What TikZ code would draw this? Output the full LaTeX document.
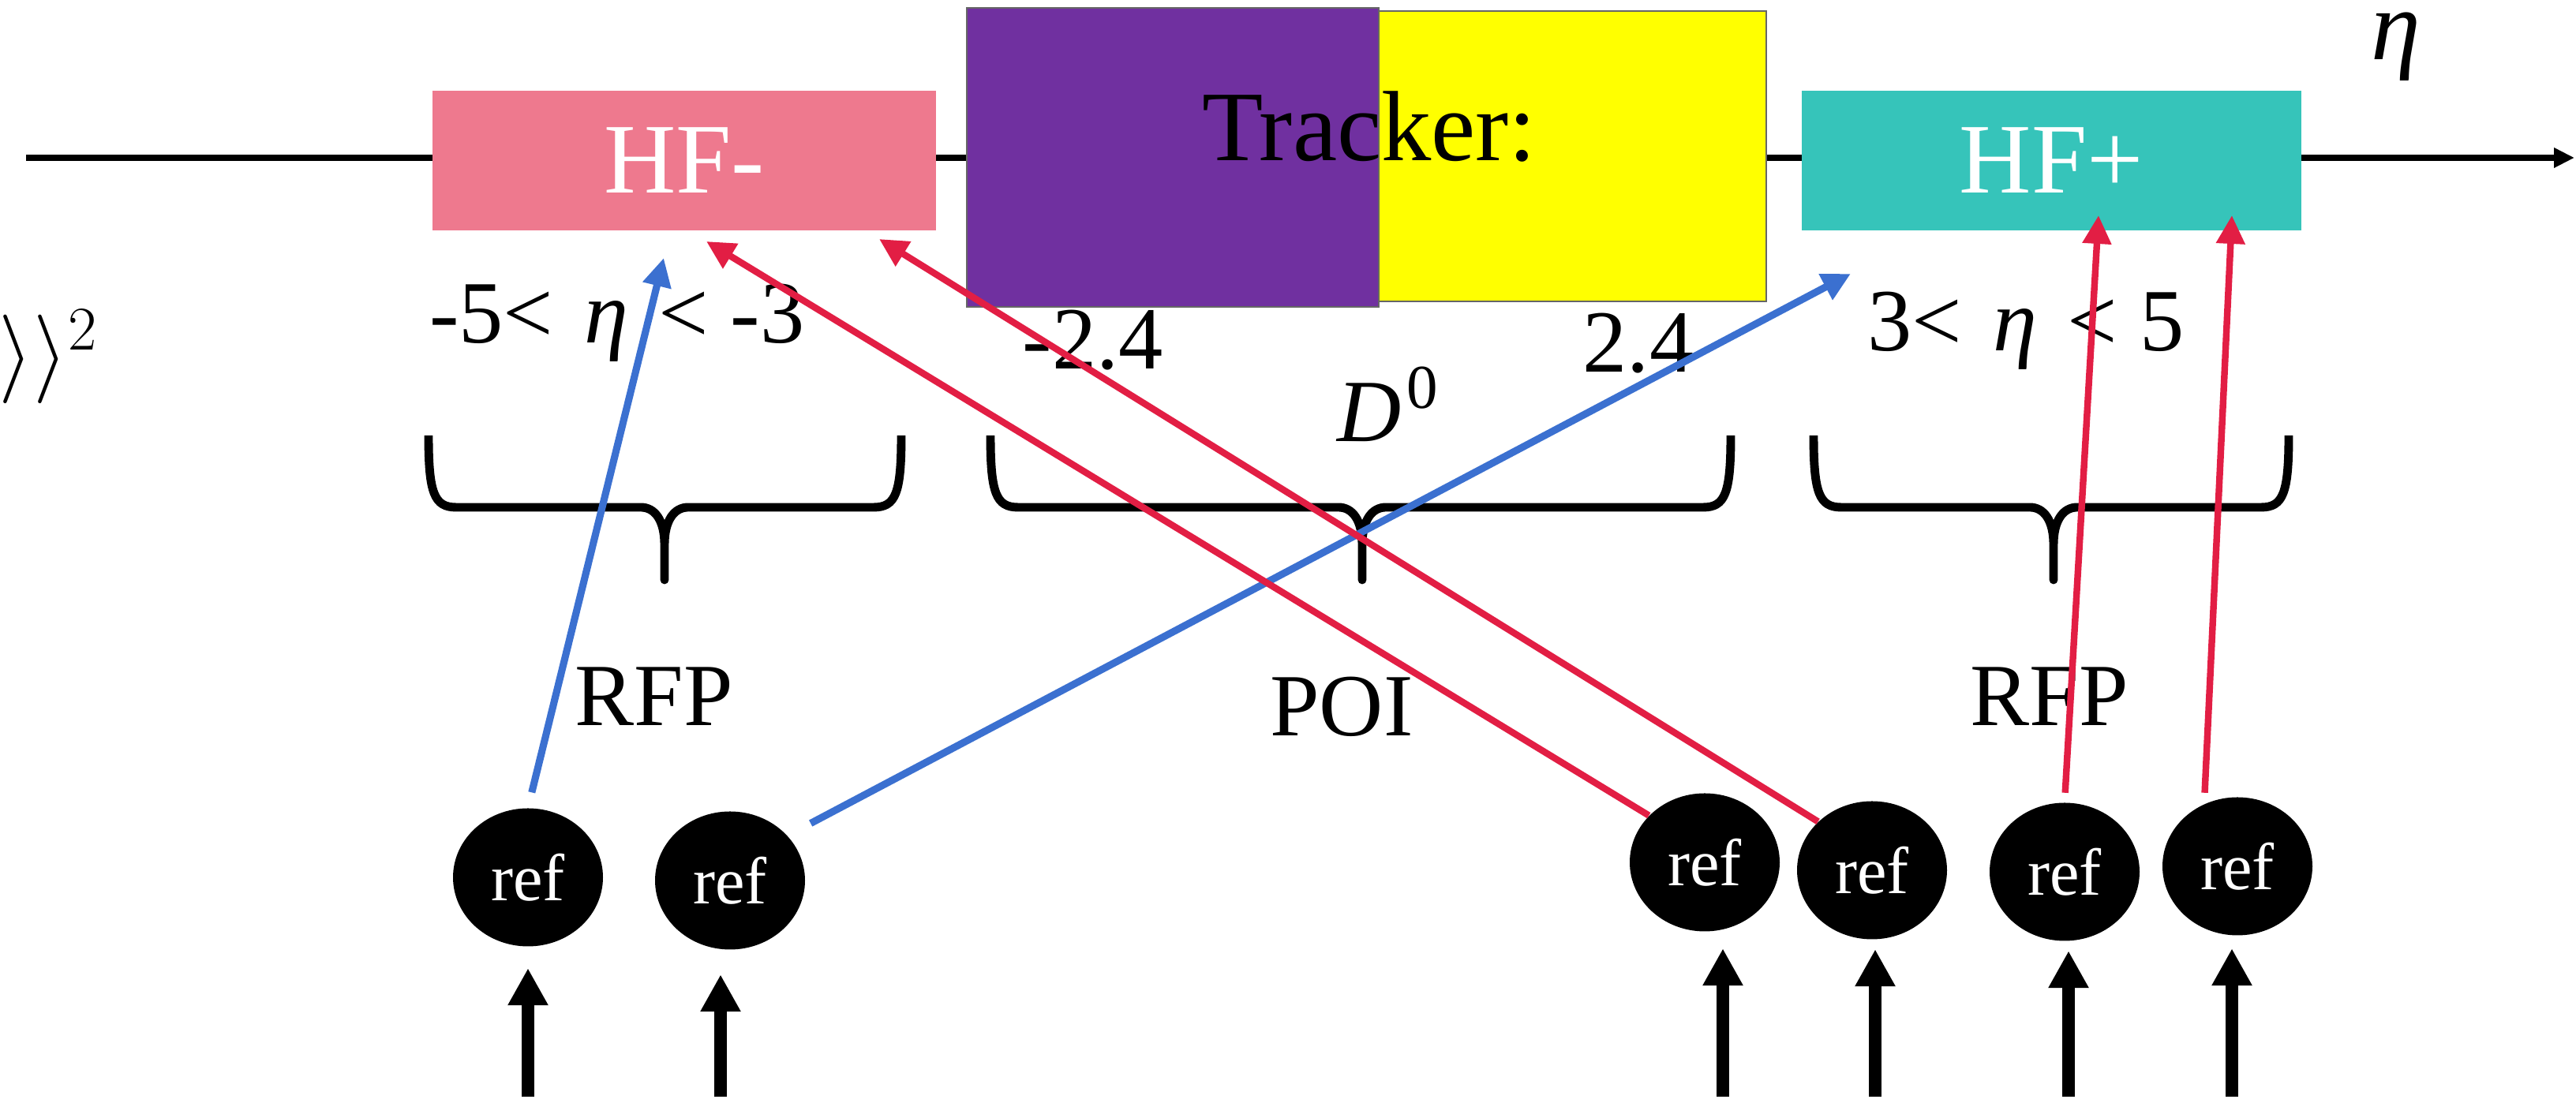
\RequirePackage{fix-cm}
\documentclass[tikz,border=0pt]{standalone}
\usepackage{fontspec}
\setmainfont{Liberation Serif}
\usetikzlibrary{arrows.meta, positioning, shapes.geometric}

\definecolor{hfminus}{RGB}{238,121,142}
\definecolor{hfplus}{RGB}{54,196,186}
\definecolor{trkpurple}{RGB}{112,48,160}
\definecolor{trkyellow}{RGB}{255,255,0}
\definecolor{poiblue}{RGB}{59,112,208}
\definecolor{rfpred}{RGB}{226,30,68}

% pointed curly brace: #1 left arm x, #2 tip x, #3 right arm x
\newcommand{\curlybrace}[3]{%
  \draw[brace] (#1,8.46) .. controls (#1,7.73) and (#1+0.07,7.55) .. (#1+0.35,7.55)
    -- (#2-0.3,7.55) .. controls (#2-0.12,7.55) and (#2,7.38) .. (#2,7.08) -- (#2,6.63)
    -- (#2,7.08) .. controls (#2,7.38) and (#2+0.12,7.55) .. (#2+0.3,7.55)
    -- (#3-0.35,7.55) .. controls (#3-0.07,7.55) and (#3,7.73) .. (#3,8.46);
}
% italic eta with some room on both sides
\newcommand{\etavar}{\kern3pt\textit{η}\kern3pt}

\begin{document}
\begin{tikzpicture}
  % Styles
  \tikzset{
    axisline/.style={line width=2.3pt,-{Triangle[length=2.6mm,width=2.4mm]}},
    detector/.style={rectangle,inner sep=0pt,minimum height=1.77cm,text=white,font=\fontsize{36}{40}\selectfont},
    tracker/.style={rectangle,inner sep=0pt,draw=black!60,line width=0.6pt},
    etarange/.style={inner sep=0pt,anchor=base,font=\fontsize{32}{36}\selectfont},
    refnode/.style={ellipse,fill=black,text=white,minimum width=1.9cm,minimum height=1.75cm,inner sep=0pt,font=\fontsize{24}{28}\selectfont},
    brace/.style={line width=3.1pt,line join=round},
    feed/.style={line width=4.5pt,-{Triangle[length=4.7mm,width=4.8mm]}},
    poiarr/.style={poiblue,line width=2.6pt,-{Triangle[length=3.6mm,width=3.5mm]}},
    rfparr/.style={rfpred,line width=2.4pt,-{Triangle[length=3.6mm,width=3.5mm]}}
  }
  \useasboundingbox (0,0) rectangle (32.64,13.98);

  % eta axis
  \coordinate (etaL) at (0.33,11.98);
  \coordinate (etaR) at (32.62,11.98);
  \draw[axisline] (etaL) -- (etaR);
  \node[font=\fontsize{36}{40}\selectfont\itshape,anchor=base] (etalabel) at (30.36,13.22) {η};

  % tail of the cumulant formula at the left edge
  \node[anchor=base east,inner sep=0pt,font=\fontsize{32}{36}\selectfont] (cumul) at (1.25,9.14) {$\rangle\rangle^2$};

  % Tracker (two halves) and forward calorimeters
  \node[tracker,fill=trkpurple,minimum width=5.22cm,minimum height=3.79cm] (trkneg) at (14.86,11.985) {};
  \node[tracker,fill=trkyellow,minimum width=4.91cm,minimum height=3.68cm] (trkpos) at (19.925,12.0) {};
  \node[font=\fontsize{36}{40}\selectfont,anchor=base] (trklabel) at (17.35,11.94) {Tracker:};
  \node[detector,fill=hfminus,minimum width=6.38cm] (hfm) at (8.67,11.945) {HF-};
  \node[detector,fill=hfplus,minimum width=6.33cm] (hfp) at (25.995,11.945) {HF+};

  % acceptance ranges
  \node[etarange] (rngneg) at (7.82,9.63) {-5< \etavar{} < -3};
  \node[etarange] (rngpos) at (25.67,9.53) {3< \etavar{} < 5};
  \node[etarange] (trkmin) at (13.85,9.30) {-2.4};
  \node[etarange] (trkmax) at (20.76,9.26) {2.4};
  \node[etarange] (dzero) at (17.58,8.38) {\textit{D}\kern2pt\raisebox{12pt}{\fontsize{22.5}{24}\selectfont 0}};

  % braces and what they select
  \curlybrace{5.43}{8.42}{11.42}
  \curlybrace{12.55}{17.26}{21.93}
  \curlybrace{22.98}{26.02}{29.00}
  \node[etarange] (rfpneg) at (8.29,4.78) {RFP};
  \node[etarange] (poi) at (17.00,4.65) {POI};
  \node[etarange] (rfppos) at (25.97,4.78) {RFP};

  % reference particles
  \foreach \n/\x/\y in {1/6.69/2.86, 2/9.25/2.82, 3/21.60/3.05, 4/23.72/2.95, 5/26.16/2.93, 6/28.35/3.00}
    \node[refnode] (ref\n) at (\x,\y) {ref};

  % incoming particles
  \foreach \n/\x/\g in {1/6.69/2.7, 2/9.13/3.1, 3/21.83/2.1, 4/23.76/1.2, 5/26.21/1.2, 6/28.28/1.6}{
    \coordinate (in\n) at (\x,0.08);
    \draw[feed,shorten >=\g mm] (in\n) -- (in\n |- ref\n.south);
  }

  % where the correlated particles land
  \coordinate (hitA) at (8.41,10.71);
  \coordinate (hitB) at (23.45,10.51);
  \coordinate (hitC) at (8.95,10.92);
  \coordinate (hitD) at (11.14,10.95);
  \coordinate (hitE) at (26.59,11.25);
  \coordinate (hitF) at (28.28,11.25);

  \draw[poiarr,shorten <=2mm] (ref1.north) -- (hitA);
  \draw[poiarr,shorten <=3.3mm] (ref2.38) -- (hitB);
  \draw[rfparr] (ref3.140) -- (hitC);
  \draw[rfparr] (ref4.138) -- (hitD);
  \draw[rfparr,shorten <=1.2mm] (ref5.north) -- (hitE);
  \draw[rfparr,shorten <=1.4mm] (ref6.118) -- (hitF);

\end{tikzpicture}
\end{document}
